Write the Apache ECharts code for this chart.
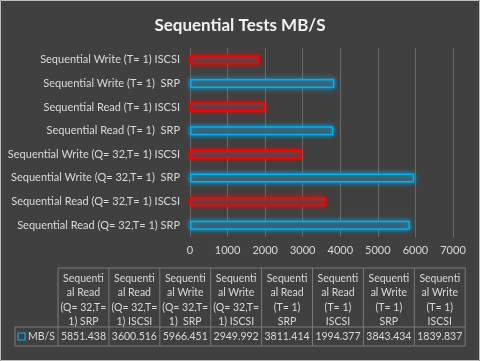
<!DOCTYPE html>
<html>
<head>
<meta charset="utf-8">
<script src="https://cdn.jsdelivr.net/npm/echarts@6/dist/echarts.min.js"></script>
<style>
  html, body { margin: 0; padding: 0; background: #404040; }
  #chart { width: 480px; height: 361px; }
</style>
</head>
<body>
<div id="chart"></div>
<script>
// categories from bottom to top (as in the data table order)
var categories = [
    'Sequential Read (Q= 32,T= 1) SRP',
    'Sequential Read (Q= 32,T= 1) ISCSI',
    'Sequential Write (Q= 32,T= 1)  SRP',
    'Sequential Write (Q= 32,T= 1) ISCSI',
    'Sequential Read (T= 1)  SRP',
    'Sequential Read (T= 1) ISCSI',
    'Sequential Write (T= 1)  SRP',
    'Sequential Write (T= 1) ISCSI'
];
var values = [5851.438, 3600.516, 5966.451, 2949.992, 3811.414, 1994.377, 3843.434, 1839.837];
// wrapped column headers of the data table
var tableHeaders = [
    ['Sequenti', 'al Read', '(Q= 32,T=', '1) SRP'],
    ['Sequenti', 'al Read', '(Q= 32,T=', '1) ISCSI'],
    ['Sequenti', 'al Write', '(Q= 32,T=', '1)  SRP'],
    ['Sequenti', 'al Write', '(Q= 32,T=', '1) ISCSI'],
    ['Sequenti', 'al Read', '(T= 1)', 'SRP'],
    ['Sequenti', 'al Read', '(T= 1)', 'ISCSI'],
    ['Sequenti', 'al Write', '(T= 1)', 'SRP'],
    ['Sequenti', 'al Write', '(T= 1)', 'ISCSI']
];
var seriesName = 'MB/S';

var font = 'Lato';
var textColor = '#d9d9d9';
var lineColor = '#7a7a7a';

var myChart = echarts.init(document.getElementById('chart'));

// 数据表格（图表下方）
var tblLeft = 58, colW = 50.9, tblTop = 268, headH = 59, rowH = 19, keyLeft = 15;
var graphics = [];
// outer frame
graphics.push({ type: 'rect', shape: { x: 0.5, y: 0.5, width: 479, height: 360 },
    style: { fill: 'none', stroke: '#bdbdbd', lineWidth: 1 }, silent: true });
function line(x1, y1, x2, y2) {
    graphics.push({ type: 'line', shape: { x1: x1, y1: y1, x2: x2, y2: y2 },
        style: { stroke: lineColor, lineWidth: 1 }, silent: true });
}
var tblRight = tblLeft + colW * values.length;
line(tblLeft, tblTop, tblRight, tblTop);
line(keyLeft, tblTop + headH, tblRight, tblTop + headH);
line(keyLeft, tblTop + headH + rowH, tblRight, tblTop + headH + rowH);
line(keyLeft, tblTop + headH, keyLeft, tblTop + headH + rowH);
for (var i = 0; i <= values.length; i++) {
    line(tblLeft + colW * i, tblTop, tblLeft + colW * i, tblTop + headH + rowH);
}
tableHeaders.forEach(function (h, i) {
    graphics.push({
        type: 'text', silent: true,
        style: {
            x: tblLeft + colW * (i + 0.5), y: tblTop + 3,
            text: h.join('\n'), align: 'center', verticalAlign: 'top',
            fill: textColor, font: '10.5px ' + font, lineHeight: 14.5
        }
    });
    graphics.push({
        type: 'text', silent: true,
        style: {
            x: tblLeft + colW * (i + 0.5), y: tblTop + headH + rowH / 2,
            text: values[i].toFixed(3), align: 'center', verticalAlign: 'middle',
            fill: textColor, font: '10.5px ' + font
        }
    });
});
// legend key
graphics.push({ type: 'rect', shape: { x: 18, y: tblTop + headH + 6, width: 7, height: 7 },
    style: { fill: 'none', stroke: '#00b0f0', lineWidth: 1.2 }, silent: true });
graphics.push({ type: 'text', silent: true,
    style: { x: 28, y: tblTop + headH + rowH / 2, text: seriesName, verticalAlign: 'middle',
        fill: textColor, font: '10.5px ' + font } });

var option = {
    backgroundColor: '#404040',
    title: {
        text: 'Sequential Tests MB/S',
        left: 'center',
        top: 12,
        textStyle: { color: '#f2f2f2', fontSize: 17, fontWeight: 'bold', fontFamily: font }
    },
    grid: { left: 190, right: 27, top: 48, bottom: 124 },
    xAxis: {
        type: 'value',
        min: 0, max: 7000, interval: 1000,
        axisLine: { show: false },
        axisTick: { show: false },
        axisLabel: { color: textColor, fontSize: 11, fontFamily: font, margin: 8,
            formatter: function (v) { return String(v); } },
        splitLine: { lineStyle: { color: '#6a6a6a', width: 1 } }
    },
    yAxis: {
        type: 'category',
        data: categories,
        axisLine: { show: false },
        axisTick: { show: false },
        axisLabel: { color: textColor, fontSize: 11, fontFamily: font, margin: 10 }
    },
    series: [{
        name: seriesName,
        type: 'bar',
        barWidth: 9,
        data: values.map(function (v, i) {
            var iscsi = categories[i].indexOf('ISCSI') >= 0;
            var c = iscsi ? '#ff0000' : '#00b0f0';
            return {
                value: v,
                itemStyle: {
                    color: new echarts.graphic.LinearGradient(0, 0, 0, 1, [
                        { offset: 0, color: 'rgba(80,82,90,0.9)' },
                        { offset: 1, color: 'rgba(66,68,76,0.9)' }
                    ]),
                    borderColor: c,
                    borderWidth: 1.5,
                    shadowColor: c,
                    shadowBlur: 5
                }
            };
        })
    }],
    graphic: graphics
};
myChart.setOption(option);
</script>
</body>
</html>
